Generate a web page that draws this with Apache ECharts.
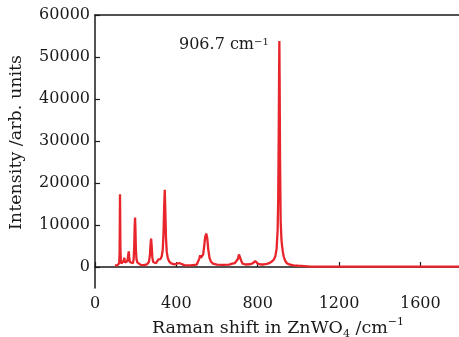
<!DOCTYPE html>
<html>
<head>
<meta charset="utf-8">
<script src="https://cdn.jsdelivr.net/npm/echarts@6/dist/echarts.min.js"></script>
<style>
  html, body { margin: 0; padding: 0; background: #fff; }
  #chart { width: 459px; height: 337px; }
</style>
</head>
<body>
<div id="chart"></div>
<script>
// Raman spectrum of ZnWO4
const ramanShift = [
  98, 110, 116, 119, 121, 123, 125, 127, 130, 134, 138, 141, 144, 147, 150, 154, 158, 162, 164, 166,
  168, 171, 175, 180, 186, 190, 193, 195, 197, 199, 201, 204, 208, 215, 225, 240, 255, 265, 270, 273,
  276, 279, 282, 286, 292, 300, 308, 312, 315, 318, 322, 328, 333, 337, 340, 343, 346, 349, 353, 358,
  365, 375, 390, 400, 405, 409, 413, 420, 440, 470, 500, 508, 513, 517, 521, 526, 532, 537, 542, 547,
  552, 557, 563, 570, 580, 600, 630, 660, 675, 681, 688, 696, 703, 708, 711, 714, 719, 726, 740, 760,
  775, 782, 788, 794, 802, 815, 830, 845, 860, 870, 880, 887, 893, 898, 901, 903.5, 905.5, 906.7, 908, 910,
  913, 917, 920, 924, 928, 935, 944, 955, 977, 1000, 1030, 1060, 1200, 1400, 1600, 1800
];
const intensity = [
  400, 420, 500, 900, 3500, 17300, 4500, 1500, 800, 700, 900, 1500, 2200, 1100, 800, 900, 1300, 2200, 3100, 3700,
  2400, 1200, 900, 800, 900, 1800, 5000, 9500, 11750, 8800, 4200, 1900, 1100, 700, 500, 450, 600, 1200, 2800, 5200,
  6750, 4800, 2300, 1200, 900, 900, 1300, 1800, 2000, 1900, 1900, 2500, 4000, 8000, 14000, 18400, 13000, 7000, 3600, 2100,
  1300, 850, 650, 750, 1000, 1200, 950, 650, 450, 400, 550, 1000, 2000, 2800, 2200, 2000, 3000, 5000, 7200, 7950,
  6900, 4200, 2200, 1300, 800, 550, 500, 550, 800, 950, 950, 1200, 1900, 3000, 3400, 2900, 1500, 800, 600, 650,
  850, 1200, 1400, 1150, 750, 600, 600, 750, 1000, 1300, 1800, 2600, 4300, 8500, 16000, 31000, 47000, 53800, 45000, 26000,
  11000, 6500, 5000, 3600, 2500, 1500, 900, 600, 400, 300, 200, 100, 100, 80, 80, 80
];
const xTicks = [0, 400, 800, 1200, 1600];
const yTicks = [0, 10000, 20000, 30000, 40000, 50000, 60000];

const chart = echarts.init(document.getElementById('chart'));

const fontFamily = 'DejaVu Serif';
const ink = '#1a1a1a';
const red = '#e8252b';
const plain = (v) => String(v);

const option = {
  animation: false,
  textStyle: { fontFamily: fontFamily },
  grid: { left: 95, top: 15, width: 366, height: 273, outerBoundsMode: 'none', containLabel: false },
  xAxis: [
    {
      type: 'value',
      min: 0,
      max: 1800,
      name: 'Raman shift in ZnWO{sub|4} /cm{sup|−1}',
      nameLocation: 'middle',
      nameGap: 26,
      nameTextStyle: {
        color: ink, fontFamily: fontFamily, fontSize: 17.5,
        rich: {
          sub: { fontSize: 11, fontFamily: fontFamily, color: ink, verticalAlign: 'bottom', padding: [12, 0, 0, 0] },
          sup: { fontSize: 11, fontFamily: fontFamily, color: ink, verticalAlign: 'top', padding: [0, 0, 7, 0] }
        }
      },
      axisLine: { lineStyle: { color: ink, width: 1.5 } },
      axisTick: { inside: true, length: 5, customValues: xTicks, lineStyle: { color: ink, width: 1.2 } },
      axisLabel: { customValues: xTicks, formatter: plain, color: ink, fontSize: 16, margin: 8 },
      splitLine: { show: false }
    },
    {
      type: 'value',
      position: 'top',
      min: 0,
      max: 1800,
      axisLine: { show: true, lineStyle: { color: ink, width: 1.5 } },
      axisTick: { show: false },
      axisLabel: { show: false },
      splitLine: { show: false }
    }
  ],
  yAxis: {
    type: 'value',
    min: -5000,
    max: 60000,
    name: 'Intensity /arb. units',
    nameLocation: 'middle',
    nameGap: 70,
    nameTextStyle: { color: ink, fontFamily: fontFamily, fontSize: 17.5, padding: [0, 0, 0, 18] },
    axisLine: { show: true, lineStyle: { color: ink, width: 1.5 } },
    axisTick: { inside: true, length: 5, customValues: yTicks, lineStyle: { color: ink, width: 1.2 } },
    axisLabel: { customValues: yTicks, formatter: plain, color: ink, fontSize: 16, margin: 5 },
    splitLine: { show: false }
  },
  graphic: [
    {
      type: 'text',
      left: 179,
      top: 37,
      style: {
        text: '906.7 cm{sup|−1}',
        fill: ink,
        font: '16px "DejaVu Serif"',
        rich: {
          sup: { fontSize: 10, fontFamily: fontFamily, fill: ink, verticalAlign: 'top', padding: [0, 0, 6, 0] }
        }
      }
    }
  ],
  series: [
    {
      type: 'line',
      data: ramanShift.map((x, i) => [x, intensity[i]]),
      showSymbol: false,
      lineStyle: { color: red, width: 2.3 },
      itemStyle: { color: red }
    }
  ]
};

chart.setOption(option);
</script>
</body>
</html>
